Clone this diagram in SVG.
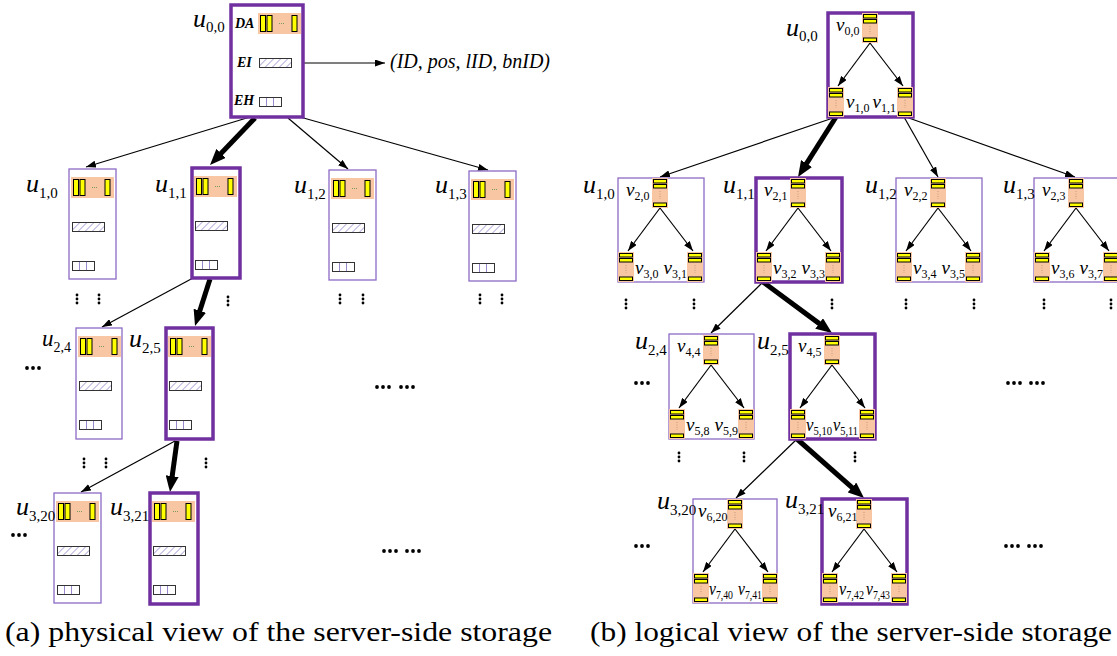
<svg xmlns="http://www.w3.org/2000/svg" xmlns:xlink="http://www.w3.org/1999/xlink" width="1117" height="656" viewBox="0 0 1117 656">
<style>
.bg{fill:#fff}
.thin{fill:#fff;stroke:#8d6ac6;stroke-width:1.3}
.thick{fill:#fff;stroke:#7030a0;stroke-width:3.5}
.yb{fill:#ffff00;stroke:#000;stroke-width:1}
.or{fill:#f8c6a2}
.e{stroke:#000;stroke-width:1.2;fill:none}
.et{stroke:#000;stroke-width:5;fill:none}
.u{font-family:"Liberation Serif","Times New Roman",serif;font-style:italic;font-size:26px;fill:#000}
.u2{font-family:"Liberation Serif","Times New Roman",serif;font-style:italic;font-size:23px;fill:#000}
.v{font-family:"Liberation Serif","Times New Roman",serif;font-style:italic;font-size:19px;fill:#000}
.s{font-style:normal;font-size:15px}
.s2{font-style:normal;font-size:14px}
.sv{font-style:normal;font-size:12px}
.f{font-family:"Liberation Serif","Times New Roman",serif;font-style:italic;font-weight:bold;font-size:14px;fill:#000}
.cap{font-family:"Liberation Serif","Times New Roman",serif;font-size:28px;fill:#000}
.dot{fill:#000}
</style>
<defs>
<pattern id="hatch" width="5" height="5" patternUnits="userSpaceOnUse" patternTransform="rotate(45)">
<rect width="5" height="5" fill="#fff"/>
<line x1="0" y1="0" x2="0" y2="5" stroke="#9a88cc" stroke-width="1.4"/>
</pattern>
<marker id="ah" markerUnits="userSpaceOnUse" markerWidth="10" markerHeight="7" refX="10" refY="3.5" orient="auto">
<path d="M0,0 L10,3.5 L0,7 z" fill="#000"/>
</marker>
<marker id="aht" markerUnits="userSpaceOnUse" markerWidth="16" markerHeight="13" refX="4" refY="6.5" orient="auto">
<path d="M0,0 L16,6.5 L0,13 z" fill="#000"/>
</marker>
<g id="pn">
<rect class="or" x="2" y="8" width="43" height="21"/>
<rect class="yb" x="4.5" y="10.5" width="5" height="16"/>
<rect class="yb" x="11" y="10.5" width="5" height="16"/>
<line x1="23" y1="18.5" x2="29" y2="18.5" stroke="#7a9a60" stroke-width="1" stroke-dasharray="1 1"/>
<rect class="yb" x="36" y="10.5" width="5" height="16"/>
<rect x="3.5" y="53.5" width="32" height="9" fill="url(#hatch)" stroke="#333" stroke-width="1"/>
<rect x="3.5" y="92.5" width="22" height="9" fill="#fff" stroke="#333" stroke-width="1"/>
<line x1="10.5" y1="93" x2="10.5" y2="101" stroke="#9a88cc" stroke-width="1"/>
<line x1="17.5" y1="93" x2="17.5" y2="101" stroke="#9a88cc" stroke-width="1"/>
</g>
<g id="vn">
<rect class="or" width="16" height="30"/>
<rect class="yb" x="1.5" y="1.5" width="13" height="3.5"/>
<rect class="yb" x="1.5" y="6.5" width="13" height="3.5"/>
<line x1="8" y1="13" x2="8" y2="21" stroke="#c49a7c" stroke-width="1" stroke-dasharray="1 1.5"/>
<rect class="yb" x="1.5" y="25" width="13" height="3.5"/>
</g>
<g id="vt">
<use xlink:href="#vn" x="34" y="0"/>
<use xlink:href="#vn" x="0" y="74"/>
<use xlink:href="#vn" x="69" y="74"/>
<line class="e" x1="42" y1="30" x2="10" y2="73" marker-end="url(#ah)"/>
<line class="e" x1="42" y1="30" x2="75" y2="73" marker-end="url(#ah)"/>
</g>
<g id="vd" class="dot"><circle cx="0" cy="-4" r="1.4"/><circle cx="0" cy="0" r="1.4"/><circle cx="0" cy="4" r="1.4"/></g>
<g id="hd" class="dot"><circle cx="0" cy="0" r="1.9"/><circle cx="6" cy="0" r="1.9"/><circle cx="12" cy="0" r="1.9"/></g>
</defs>
<rect class="bg" width="1117" height="656"/>

<!-- connectors -->
<g id="connectors">
<line class="e" x1="291" y1="63" x2="385" y2="63" marker-end="url(#ah)"/>
<line class="e" x1="250" y1="117" x2="86" y2="167" marker-end="url(#ah)"/>
<line class="et" x1="255" y1="118" x2="218.3" y2="156.3" marker-end="url(#aht)"/>
<line class="e" x1="288" y1="118" x2="348" y2="169" marker-end="url(#ah)"/>
<line class="e" x1="300" y1="117" x2="488" y2="170" marker-end="url(#ah)"/>
<line class="e" x1="193" y1="278" x2="102" y2="327" marker-end="url(#ah)"/>
<line class="et" x1="210" y1="279" x2="198.65" y2="314.57" marker-end="url(#aht)"/>
<line class="e" x1="175" y1="441" x2="81" y2="492" marker-end="url(#ah)"/>
<line class="et" x1="177" y1="441" x2="171.63" y2="480.11" marker-end="url(#aht)"/>

<line class="e" x1="836" y1="117" x2="660" y2="177" marker-end="url(#ah)"/>
<line class="et" x1="836" y1="117" x2="804.42" y2="166.86" marker-end="url(#aht)"/>
<line class="e" x1="904" y1="117" x2="938" y2="177" marker-end="url(#ah)"/>
<line class="e" x1="906" y1="117" x2="1075" y2="177" marker-end="url(#ah)"/>
<line class="e" x1="763" y1="282" x2="711" y2="333" marker-end="url(#ah)"/>
<line class="et" x1="763" y1="282" x2="822.35" y2="325.87" marker-end="url(#aht)"/>
<line class="e" x1="797" y1="439" x2="736" y2="498" marker-end="url(#ah)"/>
<line class="et" x1="797" y1="439" x2="854.99" y2="490.07" marker-end="url(#aht)"/>
</g>

<!-- left panel nodes -->
<g id="L_u00">
<rect class="thick" x="231" y="5" width="72" height="112"/>
<use xlink:href="#pn" x="256" y="5"/>
<text class="f" x="235" y="28">DA</text>
<text class="f" x="237" y="67">EI</text>
<text class="f" x="234" y="105">EH</text>
<text class="u" x="193" y="27">u<tspan class="s" dy="5">0,0</tspan></text>
</g>
<text id="L_tuple" x="390" y="68" font-family="Liberation Serif, Times New Roman, serif" font-style="italic" font-size="20" textLength="160">(ID, pos, lID, bnID)</text>
<g id="L_u10">
<rect class="thin" x="69" y="169" width="47" height="110"/>
<use xlink:href="#pn" x="69" y="169"/>
<text class="u" x="26" y="192">u<tspan class="s" dy="6">1,0</tspan></text>
</g>
<g id="L_u11">
<rect class="thick" x="192" y="168" width="48" height="110"/>
<use xlink:href="#pn" x="192" y="168"/>
<text class="u" x="155" y="192">u<tspan class="s" dy="6">1,1</tspan></text>
</g>
<g id="L_u12">
<rect class="thin" x="329" y="170" width="47" height="110"/>
<use xlink:href="#pn" x="329" y="170"/>
<text class="u" x="294" y="193">u<tspan class="s" dy="6">1,2</tspan></text>
</g>
<g id="L_u13">
<rect class="thin" x="469" y="171" width="47" height="110"/>
<use xlink:href="#pn" x="469" y="171"/>
<text class="u" x="435" y="193">u<tspan class="s" dy="6">1,3</tspan></text>
</g>
<g id="L_u24">
<rect class="thin" x="76" y="328" width="46" height="111"/>
<use xlink:href="#pn" x="76" y="328"/>
<text class="u2" x="42" y="346">u<tspan class="s2" dy="6">2,4</tspan></text>
</g>
<g id="L_u25">
<rect class="thick" x="166" y="328" width="47" height="111"/>
<use xlink:href="#pn" x="166" y="328"/>
<text class="u" x="129" y="347">u<tspan class="s" dy="6">2,5</tspan></text>
</g>
<g id="L_u320">
<rect class="thin" x="54" y="493" width="47" height="110"/>
<use xlink:href="#pn" x="54" y="493"/>
<text class="u" x="16" y="515">u<tspan class="s" dy="6">3,20</tspan></text>
</g>
<g id="L_u321">
<rect class="thick" x="150" y="493" width="48" height="111"/>
<use xlink:href="#pn" x="150" y="493"/>
<text class="u" x="110" y="515">u<tspan class="s" dy="6">3,21</tspan></text>
</g>

<!-- left panel ellipses -->
<g id="L_dots">
<use xlink:href="#vd" x="77" y="299"/><use xlink:href="#vd" x="99" y="299"/>
<use xlink:href="#vd" x="228" y="301"/>
<use xlink:href="#vd" x="340" y="299"/><use xlink:href="#vd" x="363" y="299"/>
<use xlink:href="#vd" x="480" y="299"/><use xlink:href="#vd" x="502" y="299"/>
<use xlink:href="#vd" x="84" y="463"/><use xlink:href="#vd" x="106" y="463"/>
<use xlink:href="#vd" x="206" y="463"/>
<use xlink:href="#hd" x="27" y="368"/>
<use xlink:href="#hd" x="13" y="535"/>
<use xlink:href="#hd" x="377" y="387"/><use xlink:href="#hd" x="401" y="387"/>
<use xlink:href="#hd" x="384" y="551"/><use xlink:href="#hd" x="407" y="551"/>
</g>

<!-- right panel nodes -->
<g id="R_u00">
<rect class="thick" x="828" y="13" width="85" height="104"/>
<use xlink:href="#vt" x="828" y="13"/>
<text class="u" x="786" y="36">u<tspan class="s" dy="5">0,0</tspan></text>
<text class="v" x="836" y="31">v<tspan class="sv" dy="4">0,0</tspan></text>
<text class="v" x="846" y="108">v<tspan class="sv" dy="4">1,0</tspan></text>
<text class="v" x="896" y="108" text-anchor="end">v<tspan class="sv" dy="4">1,1</tspan></text>
</g>
<g id="R_u10">
<rect class="thin" x="618" y="178" width="86" height="104"/>
<use xlink:href="#vt" x="618" y="178"/>
<text class="u" x="583" y="193">u<tspan class="s" dy="6">1,0</tspan></text>
<text class="v" x="626" y="196">v<tspan class="sv" dy="4">2,0</tspan></text>
<text class="v" x="635" y="274">v<tspan class="sv" dy="4">3,0</tspan></text>
<text class="v" x="687" y="274" text-anchor="end">v<tspan class="sv" dy="4">3,1</tspan></text>
</g>
<g id="R_u11">
<rect class="thick" x="756" y="178" width="86" height="104"/>
<use xlink:href="#vt" x="756" y="178"/>
<text class="u" x="723" y="193">u<tspan class="s" dy="6">1,1</tspan></text>
<text class="v" x="764" y="196">v<tspan class="sv" dy="4">2,1</tspan></text>
<text class="v" x="773" y="274">v<tspan class="sv" dy="4">3,2</tspan></text>
<text class="v" x="825" y="274" text-anchor="end">v<tspan class="sv" dy="4">3,3</tspan></text>
</g>
<g id="R_u12">
<rect class="thin" x="896" y="178" width="86" height="104"/>
<use xlink:href="#vt" x="896" y="178"/>
<text class="u" x="865" y="193">u<tspan class="s" dy="6">1,2</tspan></text>
<text class="v" x="904" y="196">v<tspan class="sv" dy="4">2,2</tspan></text>
<text class="v" x="913" y="274">v<tspan class="sv" dy="4">3,4</tspan></text>
<text class="v" x="965" y="274" text-anchor="end">v<tspan class="sv" dy="4">3,5</tspan></text>
</g>
<g id="R_u13">
<rect class="thin" x="1034" y="178" width="86" height="104"/>
<use xlink:href="#vt" x="1034" y="178"/>
<text class="u" x="1003" y="193">u<tspan class="s" dy="6">1,3</tspan></text>
<text class="v" x="1042" y="196">v<tspan class="sv" dy="4">2,3</tspan></text>
<text class="v" x="1051" y="274">v<tspan class="sv" dy="4">3,6</tspan></text>
<text class="v" x="1103" y="274" text-anchor="end">v<tspan class="sv" dy="4">3,7</tspan></text>
</g>
<g id="R_u24">
<rect class="thin" x="669" y="334" width="85" height="105"/>
<use xlink:href="#vt" x="669" y="335"/>
<text class="u" x="635" y="349">u<tspan class="s" dy="6">2,4</tspan></text>
<text class="v" x="677" y="352">v<tspan class="sv" dy="4">4,4</tspan></text>
<text class="v" x="686" y="431">v<tspan class="sv" dy="4">5,8</tspan></text>
<text class="v" x="738" y="431" text-anchor="end">v<tspan class="sv" dy="4">5,9</tspan></text>
</g>
<g id="R_u25">
<rect class="thick" x="790" y="334" width="85" height="105"/>
<use xlink:href="#vt" x="790" y="335"/>
<text class="u" x="757" y="349">u<tspan class="s" dy="6">2,5</tspan></text>
<text class="v" x="798" y="352">v<tspan class="sv" dy="4">4,5</tspan></text>
<text class="v" x="806" y="431" textLength="26" lengthAdjust="spacingAndGlyphs">v<tspan class="sv" dy="4">5,10</tspan></text>
<text class="v" x="833" y="431" textLength="25" lengthAdjust="spacingAndGlyphs">v<tspan class="sv" dy="4">5,11</tspan></text>
</g>
<g id="R_u320">
<rect class="thin" x="693" y="499" width="84" height="104"/>
<use xlink:href="#vt" x="693" y="499"/>
<text class="u" x="657" y="509">u<tspan class="s" dy="6">3,20</tspan></text>
<text class="v" x="698" y="517">v<tspan class="sv" dy="4">6,20</tspan></text>
<text class="v" x="709" y="595" textLength="24" lengthAdjust="spacingAndGlyphs">v<tspan class="sv" dy="4">7,40</tspan></text>
<text class="v" x="738" y="595" textLength="24" lengthAdjust="spacingAndGlyphs">v<tspan class="sv" dy="4">7,41</tspan></text>
</g>
<g id="R_u321">
<rect class="thick" x="822" y="499" width="85" height="105"/>
<use xlink:href="#vt" x="822" y="499"/>
<text class="u" x="785" y="508">u<tspan class="s" dy="6">3,21</tspan></text>
<text class="v" x="828" y="517">v<tspan class="sv" dy="4">6,21</tspan></text>
<text class="v" x="839" y="595" textLength="25" lengthAdjust="spacingAndGlyphs">v<tspan class="sv" dy="4">7,42</tspan></text>
<text class="v" x="866" y="595" textLength="24" lengthAdjust="spacingAndGlyphs">v<tspan class="sv" dy="4">7,43</tspan></text>
</g>

<!-- right panel ellipses -->
<g id="R_dots">
<use xlink:href="#vd" x="626" y="304"/><use xlink:href="#vd" x="694" y="304"/>
<use xlink:href="#vd" x="832" y="304"/>
<use xlink:href="#vd" x="906" y="304"/><use xlink:href="#vd" x="974" y="304"/>
<use xlink:href="#vd" x="1044" y="304"/><use xlink:href="#vd" x="1111" y="304"/>
<use xlink:href="#vd" x="679" y="457"/><use xlink:href="#vd" x="744" y="457"/>
<use xlink:href="#vd" x="855" y="457"/>
<use xlink:href="#hd" x="636" y="383"/>
<use xlink:href="#hd" x="636" y="546"/>
<use xlink:href="#hd" x="1008" y="383"/><use xlink:href="#hd" x="1031" y="383"/>
<use xlink:href="#hd" x="1006" y="546"/><use xlink:href="#hd" x="1029" y="546"/>
</g>

<!-- captions -->
<text class="cap" x="5" y="641" textLength="547" lengthAdjust="spacingAndGlyphs">(a) physical view of the server-side storage</text>
<text class="cap" x="590" y="641" textLength="522" lengthAdjust="spacingAndGlyphs">(b) logical view of the server-side storage</text>
</svg>
